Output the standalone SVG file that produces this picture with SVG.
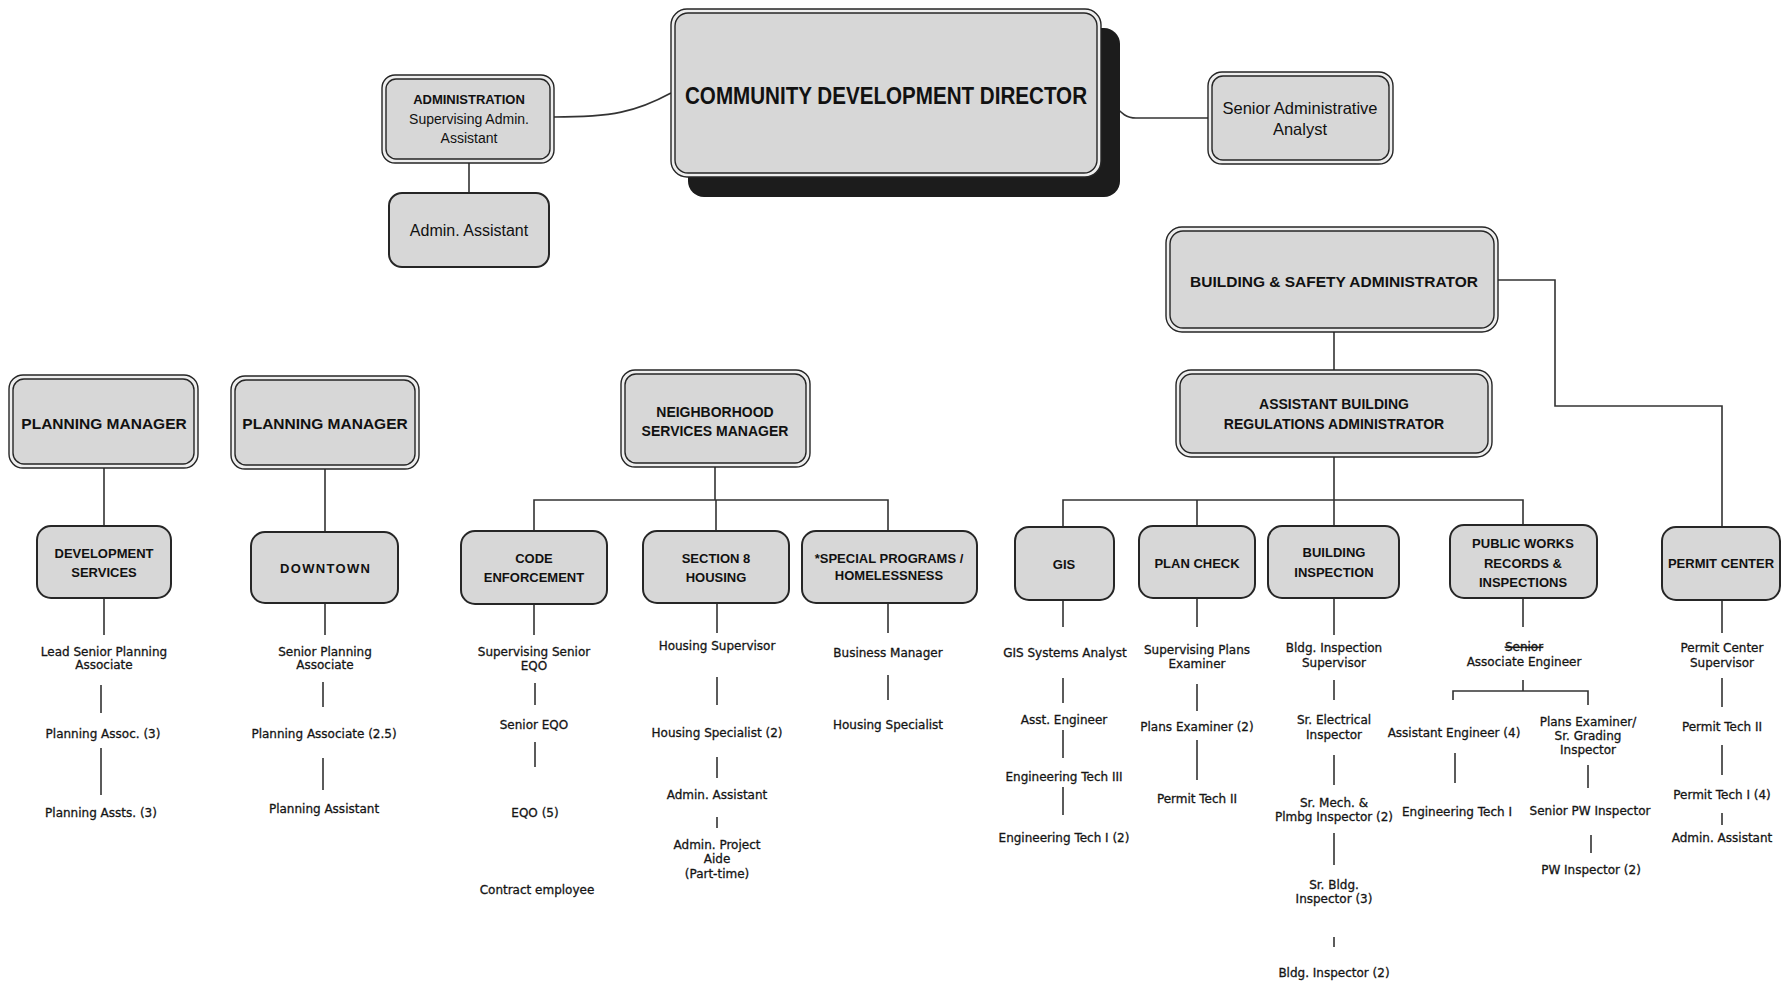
<svg xmlns="http://www.w3.org/2000/svg" width="1789" height="985" viewBox="0 0 1789 985">
<style>
.bg{fill:#ffffff}
.box{fill:#d7d7d7;stroke:#262626;stroke-width:2}
.outer{fill:#eeeeee;stroke:#262626;stroke-width:1.4}
.inner{fill:#d7d7d7;stroke:#262626;stroke-width:1.4}
.shadow{fill:#1c1c1c}
.ln{stroke:#333333;stroke-width:1.6;fill:none}
.t{font-family:"DejaVu Sans","Liberation Sans",sans-serif;font-size:12px;fill:#151515;stroke:#151515;stroke-width:0.3;text-anchor:middle;dominant-baseline:central}
.h{font-family:"Liberation Sans",Arial,sans-serif;font-weight:bold;font-size:13px;fill:#111111;text-anchor:middle;dominant-baseline:central}
.r{font-family:"Liberation Sans",Arial,sans-serif;font-size:14px;fill:#111111;text-anchor:middle;dominant-baseline:central}
.s14{font-size:14px}
.s155{font-size:15.5px}
.s16{font-size:16px}
.s165{font-size:16.5px}
.s24{font-size:24px}
</style>
<rect class="bg" x="0" y="0" width="1789" height="985"/>

<g id="connectors">
  <path class="ln" d="M554,117 C612,117 636,112 671,93"/>
  <path class="ln" d="M1099,96 C1116,100 1118,118 1136,118 L1208,118"/>
  <path class="ln" d="M469,163 V193"/>
  <path class="ln" d="M1334,332 V370"/>
  <path class="ln" d="M1498,280 H1555 V406 H1722 V527"/>
  <path class="ln" d="M104,468 V526"/>
  <path class="ln" d="M325,469 V532"/>
  <path class="ln" d="M715,467 V500"/>
  <path class="ln" d="M534,531 V500 H888 V531"/>
  <path class="ln" d="M716,500 V531"/>
  <path class="ln" d="M1334,457 V526"/>
  <path class="ln" d="M1063,527 V500 H1523 V525"/>
  <path class="ln" d="M1197,500 V526"/>
  <path class="ln" d="M104,598 V635 M101,685 V713 M101,748 V795"/>
  <path class="ln" d="M325,603 V635 M323,682 V707 M323,758 V790"/>
  <path class="ln" d="M534,604 V635 M535,683 V705 M535,742 V767"/>
  <path class="ln" d="M717,603 V633 M717,677 V705 M717,757 V778 M717,817 V828"/>
  <path class="ln" d="M888,603 V633 M888,675 V700"/>
  <path class="ln" d="M1063,600 V627 M1063,678 V703 M1063,730 V758 M1063,787 V815"/>
  <path class="ln" d="M1197,598 V627 M1197,684 V711 M1197,740 V780"/>
  <path class="ln" d="M1334,598 V635 M1334,680 V700 M1334,755 V785 M1334,833 V865 M1334,937 V947"/>
  <path class="ln" d="M1523,598 V627 M1523,680 V691 M1453,700 V691 H1588 V705 M1455,753 V783 M1588,765 V788 M1591,835 V853"/>
  <path class="ln" d="M1722,600 V633 M1722,678 V707 M1722,745 V775 M1722,813 V825"/>
</g>

<g id="director">
  <rect class="shadow" x="688" y="28" width="432" height="169" rx="16"/>
  <rect class="outer" x="671" y="9" width="430" height="168" rx="16"/>
  <rect class="inner" x="675" y="13" width="422" height="160" rx="13"/>
  <text class="h s24" x="886" y="95" textLength="402" lengthAdjust="spacingAndGlyphs">COMMUNITY DEVELOPMENT DIRECTOR</text>
</g>

<g id="administration">
  <rect class="outer" x="382" y="75" width="172" height="88" rx="13"/>
  <rect class="inner" x="386" y="79" width="164" height="80" rx="10"/>
  <text class="h" x="469" y="99">ADMINISTRATION</text>
  <text class="r" x="469" y="119">Supervising Admin.</text>
  <text class="r" x="469" y="138">Assistant</text>
</g>

<g id="admin-assistant">
  <rect class="box" x="389" y="193" width="160" height="74" rx="13"/>
  <text class="r s16" x="469" y="230">Admin. Assistant</text>
</g>

<g id="senior-admin-analyst">
  <rect class="outer" x="1208" y="72" width="185" height="92" rx="14"/>
  <rect class="inner" x="1212" y="76" width="177" height="84" rx="11"/>
  <text class="r s165" x="1300" y="108">Senior Administrative</text>
  <text class="r s165" x="1300" y="129">Analyst</text>
</g>

<g id="building-safety-admin">
  <rect class="outer" x="1166" y="227" width="332" height="105" rx="16"/>
  <rect class="inner" x="1170" y="231" width="324" height="97" rx="13"/>
  <text class="h s155" x="1334" y="281">BUILDING &amp; SAFETY ADMINISTRATOR</text>
</g>

<g id="asst-building-reg-admin">
  <rect class="outer" x="1176" y="370" width="316" height="87" rx="15"/>
  <rect class="inner" x="1180" y="374" width="308" height="79" rx="12"/>
  <text class="h s14" x="1334" y="404">ASSISTANT BUILDING</text>
  <text class="h s14" x="1334" y="424">REGULATIONS ADMINISTRATOR</text>
</g>

<g id="planning-manager-1">
  <rect class="outer" x="9" y="375" width="189" height="93" rx="14"/>
  <rect class="inner" x="13" y="379" width="181" height="85" rx="11"/>
  <text class="h s155" x="104" y="423">PLANNING MANAGER</text>
</g>

<g id="planning-manager-2">
  <rect class="outer" x="231" y="376" width="188" height="93" rx="14"/>
  <rect class="inner" x="235" y="380" width="180" height="85" rx="11"/>
  <text class="h s155" x="325" y="423">PLANNING MANAGER</text>
</g>

<g id="neighborhood-services-manager">
  <rect class="outer" x="621" y="370" width="189" height="97" rx="14"/>
  <rect class="inner" x="625" y="374" width="181" height="89" rx="11"/>
  <text class="h s14" x="715" y="412">NEIGHBORHOOD</text>
  <text class="h s14" x="715" y="431">SERVICES MANAGER</text>
</g>

<g id="development-services">
  <rect class="box" x="37" y="526" width="134" height="72" rx="14"/>
  <text class="h" x="104" y="553">DEVELOPMENT</text>
  <text class="h" x="104" y="572">SERVICES</text>
  <text class="t" x="104" y="652">Lead Senior Planning</text>
  <text class="t" x="104" y="665">Associate</text>
  <text class="t" x="103" y="734">Planning Assoc. (3)</text>
  <text class="t" x="101" y="813">Planning Assts. (3)</text>
</g>

<g id="downtown">
  <rect class="box" x="251" y="532" width="147" height="71" rx="14"/>
  <text class="h" x="325" y="568" textLength="90" lengthAdjust="spacing">DOWNTOWN</text>
  <text class="t" x="325" y="652">Senior Planning</text>
  <text class="t" x="325" y="665">Associate</text>
  <text class="t" x="324" y="734">Planning Associate (2.5)</text>
  <text class="t" x="324" y="809">Planning Assistant</text>
</g>

<g id="code-enforcement">
  <rect class="box" x="461" y="531" width="146" height="73" rx="14"/>
  <text class="h" x="534" y="558">CODE</text>
  <text class="h" x="534" y="577">ENFORCEMENT</text>
  <text class="t" x="534" y="652">Supervising Senior</text>
  <text class="t" x="534" y="666">EQO</text>
  <text class="t" x="534" y="725">Senior EQO</text>
  <text class="t" x="535" y="813">EQO (5)</text>
  <text class="t" x="537" y="890">Contract employee</text>
</g>

<g id="section-8-housing">
  <rect class="box" x="643" y="531" width="146" height="72" rx="14"/>
  <text class="h" x="716" y="558">SECTION 8</text>
  <text class="h" x="716" y="577">HOUSING</text>
  <text class="t" x="717" y="646">Housing Supervisor</text>
  <text class="t" x="717" y="733">Housing Specialist (2)</text>
  <text class="t" x="717" y="795">Admin. Assistant</text>
  <text class="t" x="717" y="845">Admin. Project</text>
  <text class="t" x="717" y="859">Aide</text>
  <text class="t" x="717" y="874">(Part-time)</text>
</g>

<g id="special-programs">
  <rect class="box" x="802" y="531" width="175" height="72" rx="14"/>
  <text class="h" x="889" y="558">*SPECIAL PROGRAMS /</text>
  <text class="h" x="889" y="575">HOMELESSNESS</text>
  <text class="t" x="888" y="653">Business Manager</text>
  <text class="t" x="888" y="725">Housing Specialist</text>
</g>

<g id="gis">
  <rect class="box" x="1015" y="527" width="99" height="73" rx="14"/>
  <text class="h" x="1064" y="564">GIS</text>
  <text class="t" x="1065" y="653">GIS Systems Analyst</text>
  <text class="t" x="1064" y="720">Asst. Engineer</text>
  <text class="t" x="1064" y="777">Engineering Tech III</text>
  <text class="t" x="1064" y="838">Engineering Tech I (2)</text>
</g>

<g id="plan-check">
  <rect class="box" x="1139" y="526" width="116" height="72" rx="14"/>
  <text class="h" x="1197" y="563">PLAN CHECK</text>
  <text class="t" x="1197" y="650">Supervising Plans</text>
  <text class="t" x="1197" y="664">Examiner</text>
  <text class="t" x="1197" y="727">Plans Examiner (2)</text>
  <text class="t" x="1197" y="799">Permit Tech II</text>
</g>

<g id="building-inspection">
  <rect class="box" x="1268" y="526" width="131" height="72" rx="14"/>
  <text class="h" x="1334" y="552">BUILDING</text>
  <text class="h" x="1334" y="572">INSPECTION</text>
  <text class="t" x="1334" y="648">Bldg. Inspection</text>
  <text class="t" x="1334" y="663">Supervisor</text>
  <text class="t" x="1334" y="720">Sr. Electrical</text>
  <text class="t" x="1334" y="735">Inspector</text>
  <text class="t" x="1334" y="803">Sr. Mech. &amp;</text>
  <text class="t" x="1334" y="817">Plmbg Inspector (2)</text>
  <text class="t" x="1334" y="885">Sr. Bldg.</text>
  <text class="t" x="1334" y="899">Inspector (3)</text>
  <text class="t" x="1334" y="973">Bldg. Inspector (2)</text>
</g>

<g id="public-works">
  <rect class="box" x="1450" y="525" width="147" height="73" rx="14"/>
  <text class="h" x="1523" y="543">PUBLIC WORKS</text>
  <text class="h" x="1523" y="563">RECORDS &amp;</text>
  <text class="h" x="1523" y="582">INSPECTIONS</text>
  <text class="t" x="1524" y="647" style="text-decoration:line-through">Senior</text>
  <text class="t" x="1524" y="662">Associate Engineer</text>
  <text class="t" x="1454" y="733">Assistant Engineer (4)</text>
  <text class="t" x="1457" y="812">Engineering Tech I</text>
  <text class="t" x="1588" y="722">Plans Examiner/</text>
  <text class="t" x="1588" y="736">Sr. Grading</text>
  <text class="t" x="1588" y="750">Inspector</text>
  <text class="t" x="1590" y="811">Senior PW Inspector</text>
  <text class="t" x="1591" y="870">PW Inspector (2)</text>
</g>

<g id="permit-center">
  <rect class="box" x="1662" y="527" width="118" height="73" rx="14"/>
  <text class="h" x="1721" y="563">PERMIT CENTER</text>
  <text class="t" x="1722" y="648">Permit Center</text>
  <text class="t" x="1722" y="663">Supervisor</text>
  <text class="t" x="1722" y="727">Permit Tech II</text>
  <text class="t" x="1722" y="795">Permit Tech I (4)</text>
  <text class="t" x="1722" y="838">Admin. Assistant</text>
</g>
</svg>
